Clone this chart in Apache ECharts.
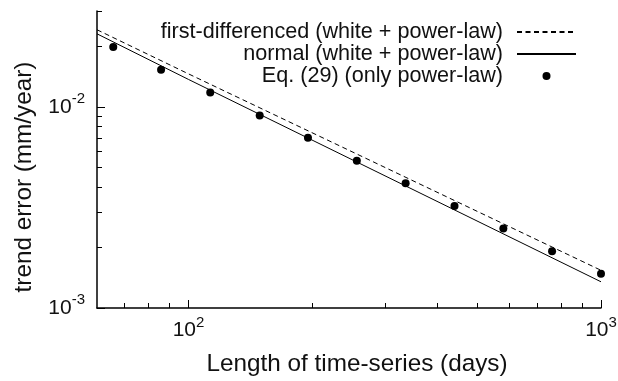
<!DOCTYPE html>
<html>
<head>
<meta charset="utf-8">
<script src="https://cdn.jsdelivr.net/npm/echarts@6/dist/echarts.min.js"></script>
<style>
html,body{margin:0;padding:0;background:#fff;}
#c{width:618px;height:381px;}
</style>
</head>
<body>
<div id="c"></div>
<script>
// ---- data ----
const eqX = [65.7, 85.8, 112.9, 148.8, 194.8, 255.9, 336.0, 441.4, 579.8, 761.0, 1000];
const eqY = [0.01984, 0.01533, 0.01179, 0.00907, 0.00702, 0.00540, 0.00417, 0.003218, 0.002482, 0.001918, 0.001480];
const lineX = [60, 100, 1000];
const normalY = [0.0231, 0.0137, 0.00135];
const firstDiffY = [0.0242, 0.0146, 0.00154];
const xMajorTicks = [100, 1000];
const xMinorTicks = [70, 80, 90, 200, 300, 400, 500, 600, 700, 800, 900];
const yMajorTicks = [0.001, 0.01];
const yMinorTicks = [0.002, 0.003, 0.004, 0.005, 0.006, 0.007, 0.008, 0.009, 0.02, 0.03];
const seriesNames = ['first-differenced (white + power-law)', 'normal (white + power-law)', 'Eq. (29) (only power-law)'];
const xTitle = 'Length of time-series (days)';
const yTitle = 'trend error (mm/year)';

const FONT = "'Liberation Sans', Arial, Helvetica, sans-serif";
const TXT = '#111';
function pow10Label(v) {
  const e = Math.round(Math.log10(v));
  return '{b|10}{s|' + e + '}';
}
const rich = {
  b: {fontSize: 21, lineHeight: 31, fontFamily: FONT, color: TXT},
  s: {fontSize: 15, lineHeight: 15, verticalAlign: 'top', fontFamily: FONT, color: TXT}
};
const gridPos = {left: 97, right: 17, top: 11, bottom: 73, outerBoundsMode: 'none', containLabel: false};
const hiddenSym = {color: 'rgba(0,0,0,0)', opacity: 0, borderWidth: 0};

const chart = echarts.init(document.getElementById('c'), null, {renderer: 'canvas'});
chart.setOption({
  animation: false,
  backgroundColor: '#fff',
  textStyle: {fontFamily: FONT},
  grid: [Object.assign({}, gridPos), Object.assign({}, gridPos)],
  legend: {
    orient: 'vertical',
    right: 41, top: 21,
    padding: 0,
    align: 'right',
    itemGap: 0,
    itemWidth: 59,
    itemHeight: 8,
    data: [
      {name: seriesNames[0], itemStyle: hiddenSym},
      {name: seriesNames[1], itemStyle: hiddenSym},
      {name: seriesNames[2]}
    ],
    textStyle: {fontSize: 21.6, lineHeight: 22, color: TXT, fontFamily: FONT, padding: [0, 9, 0, 0]}
  },
  xAxis: [{
    type: 'log', logBase: 10, min: 60, max: 1000, gridIndex: 0,
    axisLine: {lineStyle: {color: '#000', width: 1.5}},
    axisTick: {inside: true, length: 8, customValues: xMajorTicks, lineStyle: {color: '#000', width: 1}},
    axisLabel: {customValues: xMajorTicks, formatter: pow10Label, rich: rich, margin: 7},
    splitLine: {show: false},
    name: xTitle, nameLocation: 'middle', nameGap: 44,
    nameTextStyle: {fontSize: 24.3, color: TXT, fontFamily: FONT, padding: [0, 0, 0, 16]}
  }, {
    type: 'log', logBase: 10, min: 60, max: 1000, gridIndex: 1,
    axisLine: {show: false},
    axisTick: {inside: true, length: 5, customValues: xMinorTicks, lineStyle: {color: '#000', width: 1}},
    axisLabel: {show: false},
    splitLine: {show: false}
  }],
  yAxis: [{
    type: 'log', logBase: 10, min: 0.001, max: 0.03, gridIndex: 0,
    axisLine: {lineStyle: {color: '#000', width: 1.5}},
    axisTick: {inside: true, length: 8, customValues: yMajorTicks, lineStyle: {color: '#000', width: 1}},
    axisLabel: {customValues: yMajorTicks, formatter: pow10Label, rich: rich, margin: 12},
    splitLine: {show: false},
    name: yTitle, nameLocation: 'middle', nameGap: 61,
    nameTextStyle: {fontSize: 24.3, color: TXT, fontFamily: FONT, padding: [0, 35, 0, 0]}
  }, {
    type: 'log', logBase: 10, min: 0.001, max: 0.03, gridIndex: 1,
    axisLine: {show: false},
    axisTick: {inside: true, length: 5, customValues: yMinorTicks, lineStyle: {color: '#000', width: 1}},
    axisLabel: {show: false},
    splitLine: {show: false}
  }],
  series: [{
    name: seriesNames[0], type: 'line', xAxisIndex: 0, yAxisIndex: 0,
    data: lineX.map((x, i) => [x, firstDiffY[i]]),
    symbol: 'none', color: '#000',
    lineStyle: {color: '#000', width: 1, type: [5, 3.5]}
  }, {
    name: seriesNames[1], type: 'line', xAxisIndex: 0, yAxisIndex: 0,
    data: lineX.map((x, i) => [x, normalY[i]]),
    symbol: 'none', color: '#000',
    lineStyle: {color: '#000', width: 1, type: 'solid'}
  }, {
    name: seriesNames[2], type: 'scatter', xAxisIndex: 0, yAxisIndex: 0,
    data: eqX.map((x, i) => [x, eqY[i]]),
    symbol: 'circle', symbolSize: 8, color: '#000',
    itemStyle: {color: '#000', opacity: 1}
  }]
});
</script>
</body>
</html>
